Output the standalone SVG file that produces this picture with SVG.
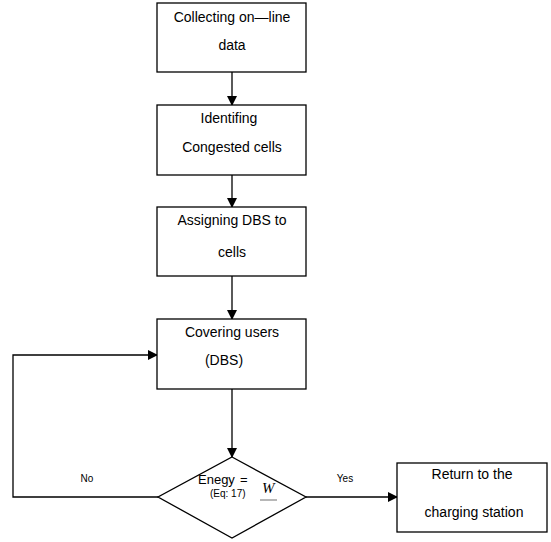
<svg xmlns="http://www.w3.org/2000/svg" width="551" height="542" viewBox="0 0 551 542">
<style>
.box{fill:#fff;stroke:#000;stroke-width:1.3}
.t{font-family:"Liberation Sans",Arial,sans-serif;font-size:14px;fill:#000;text-anchor:middle}
.e{font-family:"Liberation Sans",Arial,sans-serif;font-size:13px;fill:#000;text-anchor:start}
.s{font-family:"Liberation Sans",Arial,sans-serif;font-size:10px;fill:#000}
.c{fill:none;stroke:#000;stroke-width:1.3}
</style>
<defs>
<marker id="ah" markerWidth="10" markerHeight="10" refX="9" refY="5" orient="auto" markerUnits="userSpaceOnUse">
<path d="M0,0 L10,5 L0,10 z" fill="#000"/>
</marker>
</defs>
<rect width="551" height="542" fill="#fff"/>
<g id="connectors">
<line class="c" x1="232" y1="72" x2="232" y2="105" marker-end="url(#ah)"/>
<line class="c" x1="232" y1="175" x2="232" y2="207" marker-end="url(#ah)"/>
<line class="c" x1="232" y1="276" x2="232" y2="319" marker-end="url(#ah)"/>
<line class="c" x1="232" y1="389" x2="232" y2="457" marker-end="url(#ah)"/>
<polyline class="c" points="158,497 13,497 13,355 157,355" marker-end="url(#ah)"/>
<line class="c" x1="306" y1="497" x2="397" y2="497" marker-end="url(#ah)"/>
<text class="s" x="87" y="482" text-anchor="middle">No</text>
<text class="s" x="345" y="482" text-anchor="middle">Yes</text>
</g>
<g id="n1">
<rect class="box" x="157" y="3" width="149" height="69"/>
<text class="t" x="232" y="22">Collecting on—line</text>
<text class="t" x="232" y="50">data</text>
</g>
<g id="n2">
<rect class="box" x="157" y="105" width="149" height="70"/>
<text class="t" x="229" y="123">Identifing</text>
<text class="t" x="232" y="152">Congested cells</text>
</g>
<g id="n3">
<rect class="box" x="157" y="207" width="149" height="69"/>
<text class="t" x="232" y="225">Assigning DBS to</text>
<text class="t" x="232" y="257">cells</text>
</g>
<g id="n4">
<rect class="box" x="157" y="319" width="149" height="70"/>
<text class="t" x="232" y="337">Covering users</text>
<text class="t" x="224" y="365">(DBS)</text>
</g>
<g id="n5">
<polygon class="box" points="232,457 306,497 232,538 158,497"/>
<text class="e" x="198" y="484">Enegy</text>
<text class="e" x="240" y="484">=</text>
<text class="s" x="210" y="497">(Eq: 17)</text>
<text x="262" y="493" font-family="Liberation Serif,serif" font-style="italic" font-size="15" fill="#000">W</text>
<line x1="260" y1="500" x2="277" y2="500" stroke="#888" stroke-width="1.2"/>
</g>
<g id="n6">
<rect class="box" x="397" y="463" width="150" height="69"/>
<text class="t" x="472" y="479">Return to the</text>
<text class="t" x="474" y="517">charging station</text>
</g>
</svg>
